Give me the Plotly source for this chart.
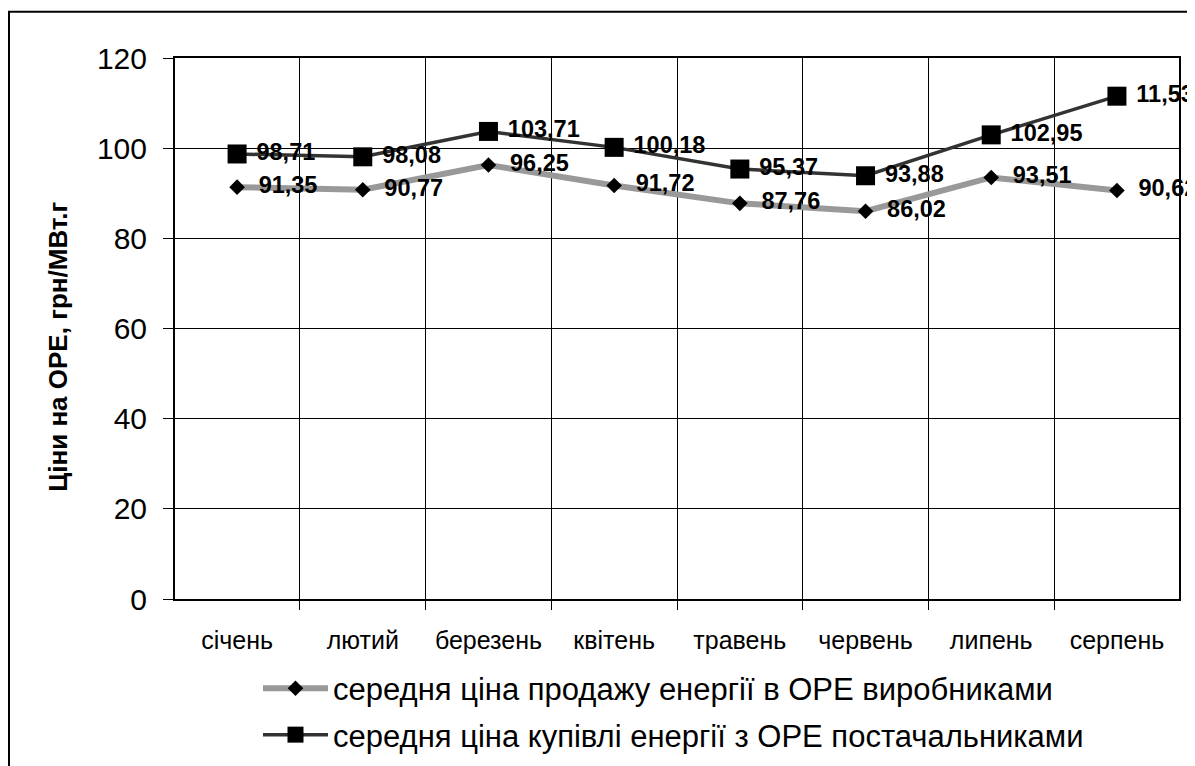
import plotly.graph_objects as go

months = ["січень", "лютий", "березень", "квітень", "травень", "червень", "липень", "серпень"]
sell_prices = [91.35, 90.77, 96.25, 91.72, 87.76, 86.02, 93.51, 90.62]
buy_prices = [98.71, 98.08, 103.71, 100.18, 95.37, 93.88, 102.95, 111.53]
sell_labels = ["91,35", "90,77", "96,25", "91,72", "87,76", "86,02", "93,51", "90,62"]
buy_labels = ["98,71", "98,08", "103,71", "100,18", "95,37", "93,88", "102,95", "11,53"]
y_ticks = [0, 20, 40, 60, 80, 100, 120]

name_sell = "середня ціна продажу енергії в ОРЕ виробниками"
name_buy = "середня ціна купівлі енергії з ОРЕ постачальниками"
y_title = "Ціни на ОРЕ, грн/МВт.г"

FONT = "Liberation Sans, Arial, sans-serif"

# page body has an 8px margin; layout is expressed in figure-internal pixels
L, T, R, B = 167, 50, 1171, 599
W, H = 1195, 766
PW, PH = R - L, B - T

fig = go.Figure()
fig.add_trace(go.Scatter(
    x=months, y=sell_prices, name=name_sell, mode="lines+markers+text",
    line=dict(color="#999999", width=6),
    marker=dict(symbol="diamond", size=12, color="black"),
    text=sell_labels, texttemplate="  %{text}", textposition="middle right",
    textfont=dict(family=FONT, size=23.5, color="black", weight="bold"),
    cliponaxis=False, legend="legend",
))
fig.add_trace(go.Scatter(
    x=months, y=buy_prices, name=name_buy, mode="lines+markers+text",
    line=dict(color="#333333", width=3.5),
    marker=dict(symbol="square", size=19, color="black"),
    text=buy_labels, texttemplate=" %{text}", textposition="middle right",
    textfont=dict(family=FONT, size=23.5, color="black", weight="bold"),
    cliponaxis=False, legend="legend2",
))

leg_common = dict(xanchor="left", yanchor="middle",
                  font=dict(size=31, family=FONT, color="black"),
                  itemwidth=65, bgcolor="rgba(0,0,0,0)")

fig.update_layout(
    width=W, height=H,
    margin=dict(l=L, r=W - R, t=T, b=H - B),
    paper_bgcolor="white", plot_bgcolor="white",
    font=dict(family=FONT, color="black"),
    showlegend=True,
    legend=dict(x=(250 - L) / PW, y=(B - 690) / PH, **leg_common),
    legend2=dict(x=(250 - L) / PW, y=(B - 737) / PH, **leg_common),
    xaxis=dict(
        tickson="boundaries", ticks="outside", ticklen=9, tickcolor="black",
        showgrid=True, gridcolor="black", gridwidth=1,
        showline=True, linecolor="black", linewidth=2, mirror=True,
        tickfont=dict(size=25, family=FONT, color="black"),
        ticklabelstandoff=18,
    ),
    yaxis=dict(
        range=[0, 120], tickvals=y_ticks, ticks="outside", ticklen=10, tickcolor="black",
        showgrid=True, gridcolor="black", gridwidth=1,
        showline=True, linecolor="black", linewidth=2, mirror=True,
        zeroline=False, ticklabelstandoff=10,
        tickfont=dict(size=30, family=FONT, color="black"),
    ),
    annotations=[dict(text="<b>" + y_title + "</b>", xref="paper", yref="paper",
                      x=(50 - L) / PW, y=(B - 343) / PH, xanchor="center", yanchor="middle",
                      textangle=-90, showarrow=False,
                      font=dict(size=26, family=FONT, color="black"))],
    shapes=[dict(type="rect", xref="paper", yref="paper",
                 x0=(1 - L) / PW, x1=1.2, y0=-0.5, y1=(B - 3) / PH,
                 line=dict(color="black", width=2), layer="below")],
)

fig.write_html("out.html")
